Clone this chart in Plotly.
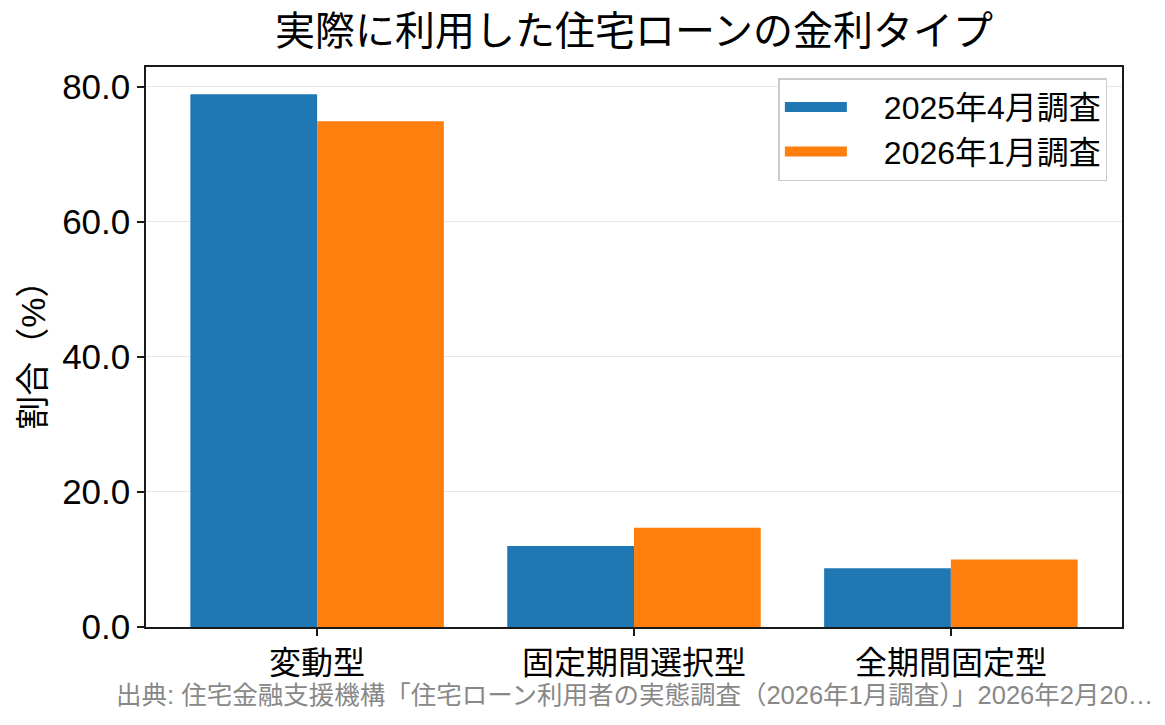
import plotly.graph_objects as go

categories = ["変動型", "固定期間選択型", "全期間固定型"]
series_names = ["2025年4月調査", "2026年1月調査"]
values_2025_04 = [78.9, 12.0, 8.7]
values_2026_01 = [74.9, 14.7, 10.0]
colors = ["#1f77b4", "#ff7f0e"]

title_text = "実際に利用した住宅ローンの金利タイプ"
y_label = "割合（%）"
source_text = "出典: 住宅金融支援機構「住宅ローン利用者の実態調査（2026年1月調査）」2026年2月20…"
y_ticks = [0, 20, 40, 60, 80]

FONT = "Liberation Sans, Noto Sans CJK JP"
W, H = 1157, 717  # the page adds an 8px body margin

fig = go.Figure()
for name, vals, col in zip(series_names, [values_2025_04, values_2026_01], colors):
    fig.add_trace(go.Bar(x=categories, y=vals, name=name, marker_color=col,
                         marker_line_width=0, showlegend=False,
                         legendgroup=name))
    # wide swatch for the legend only
    fig.add_trace(go.Scatter(x=[None], y=[None], mode="lines",
                             name="\u2003" + name,
                             line=dict(color=col, width=20),
                             legendgroup=name))

fig.update_layout(
    width=W,
    height=H,
    barmode="group",
    bargap=0.2,
    bargroupgap=0,
    plot_bgcolor="white",
    paper_bgcolor="white",
    font=dict(family=FONT, color="black"),
    margin=dict(l=138, r=43, t=59, b=98),
    title=dict(text=title_text, x=0.5, xref="paper", xanchor="center",
               y=1 - 23 / H, yref="container", yanchor="middle",
               font=dict(size=40, color="black")),
    legend=dict(x=0.985, y=0.98, xanchor="right", yanchor="top",
                bgcolor="white", bordercolor="#cccccc", borderwidth=1.5,
                font=dict(size=32), itemwidth=62, tracegroupgap=0),
    showlegend=True,
)

fig.update_xaxes(
    range=[-0.54, 2.54],
    showgrid=False,
    showline=True, linewidth=1.5, linecolor="#1a1a1a", mirror=True,
    ticks="outside", ticklen=7, tickwidth=1.5, tickcolor="#1a1a1a",
    tickfont=dict(size=32),
)
fig.update_yaxes(
    range=[0, 82.95],
    tickvals=y_ticks,
    tickformat=".1f",
    showgrid=True, gridcolor="#e6e6e6", gridwidth=1,
    zeroline=False,
    showline=True, linewidth=1.5, linecolor="#1a1a1a", mirror=True,
    ticks="outside", ticklen=7, tickwidth=1.5, tickcolor="#1a1a1a",
    tickfont=dict(size=35),
)

fig.add_annotation(text=y_label, x=-0.116, y=0.5, xref="paper", yref="paper",
                   xanchor="center", yanchor="middle", textangle=-90,
                   showarrow=False, font=dict(size=34, color="black"))
fig.add_annotation(text=source_text, x=0.5, y=-0.121, xref="paper", yref="paper",
                   xanchor="center", yanchor="middle",
                   showarrow=False, font=dict(size=25.5, color="#888888"))

fig.write_html("out.html")
